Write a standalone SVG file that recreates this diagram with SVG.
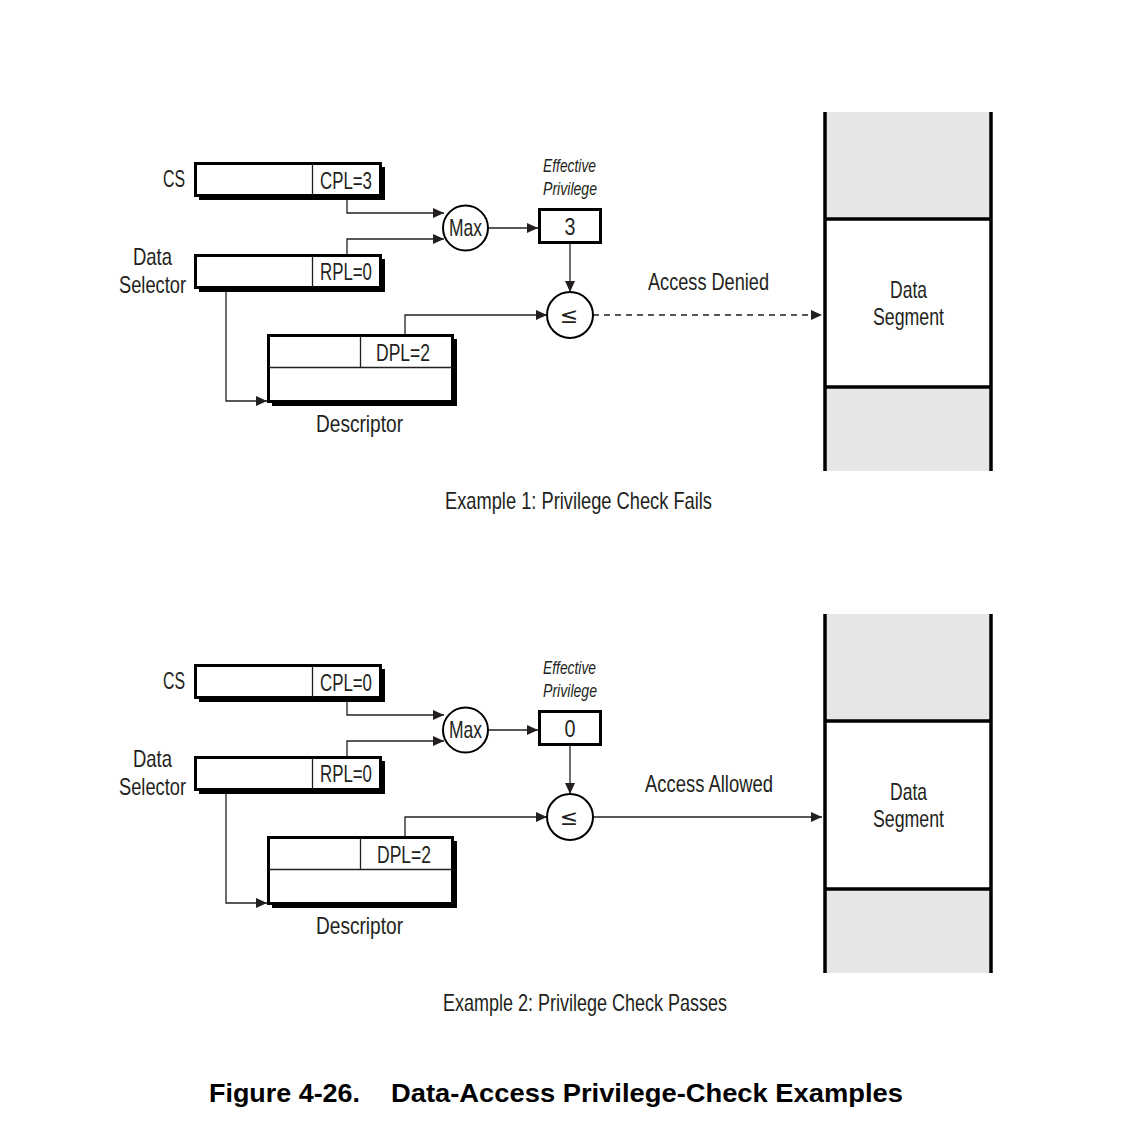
<svg xmlns="http://www.w3.org/2000/svg" width="1132" height="1126" viewBox="0 0 1132 1126">
<style>
.t{font-family:"Liberation Sans","DejaVu Sans",sans-serif;font-size:24px;fill:#231f20}
.it{font-family:"Liberation Sans","DejaVu Sans",sans-serif;font-size:18px;font-style:italic;fill:#231f20}
.le{font-family:"DejaVu Sans",sans-serif;font-size:22px;fill:#231f20}
.ttl{font-family:"Liberation Sans",Arial,sans-serif;font-size:26px;font-weight:bold;fill:#000}
.box{fill:#fff;stroke:#000;stroke-width:3}
.sh{fill:#000}
.thin{stroke:#231f20;stroke-width:1.3;fill:none}
.cn{stroke:#231f20;stroke-width:1.3;fill:none;marker-end:url(#ah)}
.dash{stroke-dasharray:6 5}
.circ{fill:#fff;stroke:#000;stroke-width:2}
.grey{fill:#e6e6e6}
.seg{stroke:#000;stroke-width:3.5;fill:none}
</style>
<defs>
<marker id="ah" markerUnits="userSpaceOnUse" markerWidth="11" markerHeight="10" refX="11" refY="5" orient="auto">
<path d="M0,0 L11,5 L0,10 z" fill="#231f20"/>
</marker>
</defs>
<rect width="1132" height="1126" fill="#fff"/>

<!-- Example 1 -->
<g id="example1">
<g id="ex1-connectors">
<path class="cn" d="M347 200 V213 H444"/>
<path class="cn" d="M347 255 V239 H444"/>
<path class="cn" d="M488 228 H538"/>
<path class="cn" d="M570 244 V292"/>
<path class="cn" d="M405 335 V315 H547"/>
<path class="cn dash" d="M593 315 H822"/>
<path class="cn" d="M226 292 V401 H267"/>
<text class="t" x="648" y="290" textLength="121" lengthAdjust="spacingAndGlyphs">Access Denied</text>
</g>
<g id="ex1-cs">
<text class="t" x="163" y="187" textLength="22" lengthAdjust="spacingAndGlyphs">CS</text>
<rect class="sh" x="199" y="167" width="186" height="33"/>
<rect class="box" x="195.5" y="163.5" width="185" height="32"/>
<line class="thin" x1="312.5" y1="164" x2="312.5" y2="195"/>
<text class="t" x="320" y="189" textLength="52" lengthAdjust="spacingAndGlyphs">CPL=3</text>
</g>
<g id="ex1-selector">
<text class="t" x="133" y="265" textLength="39" lengthAdjust="spacingAndGlyphs">Data</text>
<text class="t" x="119" y="293" textLength="67" lengthAdjust="spacingAndGlyphs">Selector</text>
<rect class="sh" x="199" y="259" width="186" height="33"/>
<rect class="box" x="195.5" y="255.5" width="185" height="32"/>
<line class="thin" x1="312.5" y1="256" x2="312.5" y2="287"/>
<text class="t" x="320" y="280" textLength="52" lengthAdjust="spacingAndGlyphs">RPL=0</text>
</g>
<g id="ex1-descriptor">
<rect class="sh" x="272" y="339" width="185" height="67"/>
<rect class="box" x="268.5" y="335.5" width="184" height="66"/>
<line class="thin" x1="269" y1="367.5" x2="452" y2="367.5"/>
<line class="thin" x1="360.5" y1="336" x2="360.5" y2="367"/>
<text class="t" x="376" y="361" textLength="54" lengthAdjust="spacingAndGlyphs">DPL=2</text>
<text class="t" x="316" y="432" textLength="87" lengthAdjust="spacingAndGlyphs">Descriptor</text>
</g>
<g id="ex1-max">
<circle class="circ" cx="465.5" cy="228" r="22.5"/>
<text class="t" x="449" y="236" textLength="33" lengthAdjust="spacingAndGlyphs">Max</text>
</g>
<g id="ex1-effective">
<text class="it" x="543" y="172" textLength="53" lengthAdjust="spacingAndGlyphs">Effective</text>
<text class="it" x="543" y="195" textLength="54" lengthAdjust="spacingAndGlyphs">Privilege</text>
<rect class="box" x="539.5" y="209.5" width="61" height="33"/>
<text class="t" x="570" y="235" text-anchor="middle" textLength="11" lengthAdjust="spacingAndGlyphs">3</text>
</g>
<g id="ex1-compare">
<circle class="circ" cx="570" cy="315" r="23"/>
<text class="le" x="569" y="323" text-anchor="middle">≤</text>
</g>
<g id="ex1-segment">
<rect class="grey" x="825" y="112" width="167" height="107"/>
<rect class="grey" x="825" y="387" width="167" height="84"/>
<line class="seg" x1="825" y1="112" x2="825" y2="471"/>
<line class="seg" x1="991" y1="112" x2="991" y2="471"/>
<line class="seg" x1="825" y1="219" x2="991" y2="219"/>
<line class="seg" x1="825" y1="387" x2="991" y2="387"/>
<text class="t" x="890" y="298" textLength="37" lengthAdjust="spacingAndGlyphs">Data</text>
<text class="t" x="873" y="325" textLength="71" lengthAdjust="spacingAndGlyphs">Segment</text>
</g>
<text class="t" x="445" y="509" textLength="267" lengthAdjust="spacingAndGlyphs">Example 1: Privilege Check Fails</text>
</g>

<!-- Example 2 -->
<g id="example2" transform="translate(0,502)">
<g id="ex2-connectors">
<path class="cn" d="M347 200 V213 H444"/>
<path class="cn" d="M347 255 V239 H444"/>
<path class="cn" d="M488 228 H538"/>
<path class="cn" d="M570 244 V292"/>
<path class="cn" d="M405 335 V315 H547"/>
<path class="cn" d="M593 315 H822"/>
<path class="cn" d="M226 292 V401 H267"/>
<text class="t" x="645" y="290" textLength="128" lengthAdjust="spacingAndGlyphs">Access Allowed</text>
</g>
<g id="ex2-cs">
<text class="t" x="163" y="187" textLength="22" lengthAdjust="spacingAndGlyphs">CS</text>
<rect class="sh" x="199" y="167" width="186" height="33"/>
<rect class="box" x="195.5" y="163.5" width="185" height="32"/>
<line class="thin" x1="312.5" y1="164" x2="312.5" y2="195"/>
<text class="t" x="320" y="189" textLength="52" lengthAdjust="spacingAndGlyphs">CPL=0</text>
</g>
<g id="ex2-selector">
<text class="t" x="133" y="265" textLength="39" lengthAdjust="spacingAndGlyphs">Data</text>
<text class="t" x="119" y="293" textLength="67" lengthAdjust="spacingAndGlyphs">Selector</text>
<rect class="sh" x="199" y="259" width="186" height="33"/>
<rect class="box" x="195.5" y="255.5" width="185" height="32"/>
<line class="thin" x1="312.5" y1="256" x2="312.5" y2="287"/>
<text class="t" x="320" y="280" textLength="52" lengthAdjust="spacingAndGlyphs">RPL=0</text>
</g>
<g id="ex2-descriptor">
<rect class="sh" x="272" y="339" width="185" height="67"/>
<rect class="box" x="268.5" y="335.5" width="184" height="66"/>
<line class="thin" x1="269" y1="367.5" x2="452" y2="367.5"/>
<line class="thin" x1="360.5" y1="336" x2="360.5" y2="367"/>
<text class="t" x="377" y="361" textLength="54" lengthAdjust="spacingAndGlyphs">DPL=2</text>
<text class="t" x="316" y="432" textLength="87" lengthAdjust="spacingAndGlyphs">Descriptor</text>
</g>
<g id="ex2-max">
<circle class="circ" cx="465.5" cy="228" r="22.5"/>
<text class="t" x="449" y="236" textLength="33" lengthAdjust="spacingAndGlyphs">Max</text>
</g>
<g id="ex2-effective">
<text class="it" x="543" y="172" textLength="53" lengthAdjust="spacingAndGlyphs">Effective</text>
<text class="it" x="543" y="195" textLength="54" lengthAdjust="spacingAndGlyphs">Privilege</text>
<rect class="box" x="539.5" y="209.5" width="61" height="33"/>
<text class="t" x="570" y="235" text-anchor="middle" textLength="11" lengthAdjust="spacingAndGlyphs">0</text>
</g>
<g id="ex2-compare">
<circle class="circ" cx="570" cy="315" r="23"/>
<text class="le" x="569" y="323" text-anchor="middle">≤</text>
</g>
<g id="ex2-segment">
<rect class="grey" x="825" y="112" width="167" height="107"/>
<rect class="grey" x="825" y="387" width="167" height="84"/>
<line class="seg" x1="825" y1="112" x2="825" y2="471"/>
<line class="seg" x1="991" y1="112" x2="991" y2="471"/>
<line class="seg" x1="825" y1="219" x2="991" y2="219"/>
<line class="seg" x1="825" y1="387" x2="991" y2="387"/>
<text class="t" x="890" y="298" textLength="37" lengthAdjust="spacingAndGlyphs">Data</text>
<text class="t" x="873" y="325" textLength="71" lengthAdjust="spacingAndGlyphs">Segment</text>
</g>
<text class="t" x="443" y="509" textLength="284" lengthAdjust="spacingAndGlyphs">Example 2: Privilege Check Passes</text>
</g>

<text class="ttl" x="209" y="1102" textLength="151" lengthAdjust="spacingAndGlyphs">Figure 4-26.</text>
<text class="ttl" x="391" y="1102" textLength="512" lengthAdjust="spacingAndGlyphs">Data-Access Privilege-Check Examples</text>
</svg>
